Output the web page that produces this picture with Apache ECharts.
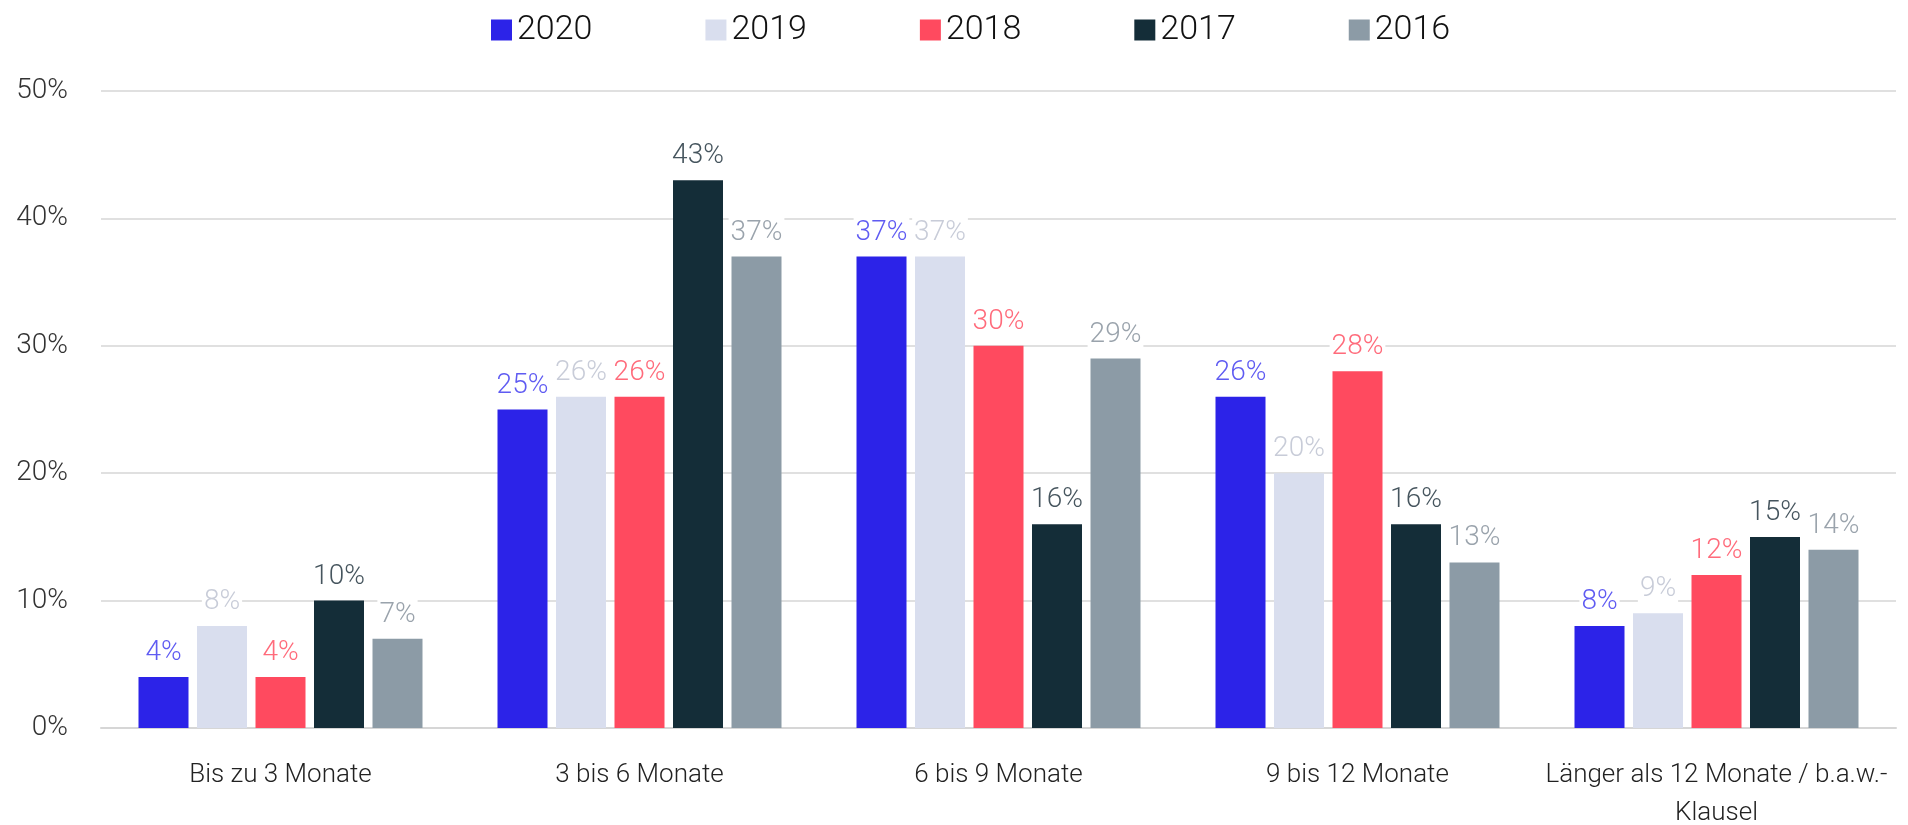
<!DOCTYPE html>
<html>
<head>
<meta charset="utf-8">
<script src="https://cdn.jsdelivr.net/npm/echarts@6/dist/echarts.min.js"></script>
<style>
html,body{margin:0;padding:0;background:#fff;}
#chart{width:1908px;height:825px;}
</style>
</head>
<body>
<div id="chart"></div>
<script>
var categories = ["Bis zu 3 Monate", "3 bis 6 Monate", "6 bis 9 Monate", "9 bis 12 Monate", "Länger als 12 Monate / b.a.w.-Klausel"]
var years = ["2020", "2019", "2018", "2017", "2016"]
var v2020 = [4, 25, 37, 26, 8]
var v2019 = [8, 26, 37, 20, 9]
var v2018 = [4, 26, 30, 28, 12]
var v2017 = [10, 43, 16, 16, 15]
var v2016 = [7, 37, 29, 13, 14]
var yTicks = [0, 10, 20, 30, 40, 50]

var values = [v2020, v2019, v2018, v2017, v2016]
var barColors = ["#2c23e8", "#d9deee", "#ff4a5f", "#142d38", "#8c9ba6"]
var labelColors = ["#5f5bf2", "#c8ccd8", "#ff6b7b", "#46555e", "#9aa3ac"]
var font = "Roboto, sans-serif"

var myChart = echarts.init(document.getElementById("chart"))
var option = {
	animation: false,
	textStyle: { fontFamily: font, fontWeight: 300 },
	legend: {
		top: 8,
		left: 486,
		itemWidth: 21,
		itemHeight: 21,
		itemGap: 113,
		icon: "rect",
		selectedMode: false,
		textStyle: { fontSize: 34, color: "#111", fontFamily: font, fontWeight: 300 }
	},
	grid: { left: 101, right: 12, top: 91, bottom: 97, outerBoundsMode: "none" },
	xAxis: {
		type: "category",
		data: categories,
		axisTick: { show: false },
		axisLine: { lineStyle: { color: "#d6d6d6", width: 2 } },
		axisLabel: {
			interval: 0,
			fontSize: 26,
			fontWeight: 300,
			color: "#222",
			margin: 28,
			lineHeight: 38,
			formatter: function (name) {
				return name.replace("b.a.w.-Klausel", "b.a.w.-\nKlausel")
			}
		}
	},
	yAxis: {
		type: "value",
		min: yTicks[0],
		max: yTicks[yTicks.length - 1],
		interval: 10,
		axisLine: { show: false },
		axisTick: { show: false },
		splitLine: { lineStyle: { color: "#d6d6d6", width: 1.5 } },
		axisLabel: {
			fontSize: 28,
			fontWeight: 300,
			color: "#333",
			margin: 33,
			formatter: "{value}%"
		}
	},
	series: years.map(function (year, i) {
		return {
			name: year,
			type: "bar",
			barWidth: 50,
			barGap: "17%",
			data: values[i],
			itemStyle: { color: barColors[i] },
			label: {
				show: true,
				position: "top",
				distance: 10,
				formatter: "{c}%",
				fontSize: 28,
				fontWeight: 300,
				color: labelColors[i],
				backgroundColor: "#fff",
				padding: [2, 2, 0, 2]
			}
		}
	})
}
myChart.setOption(option)
</script>
</body>
</html>
